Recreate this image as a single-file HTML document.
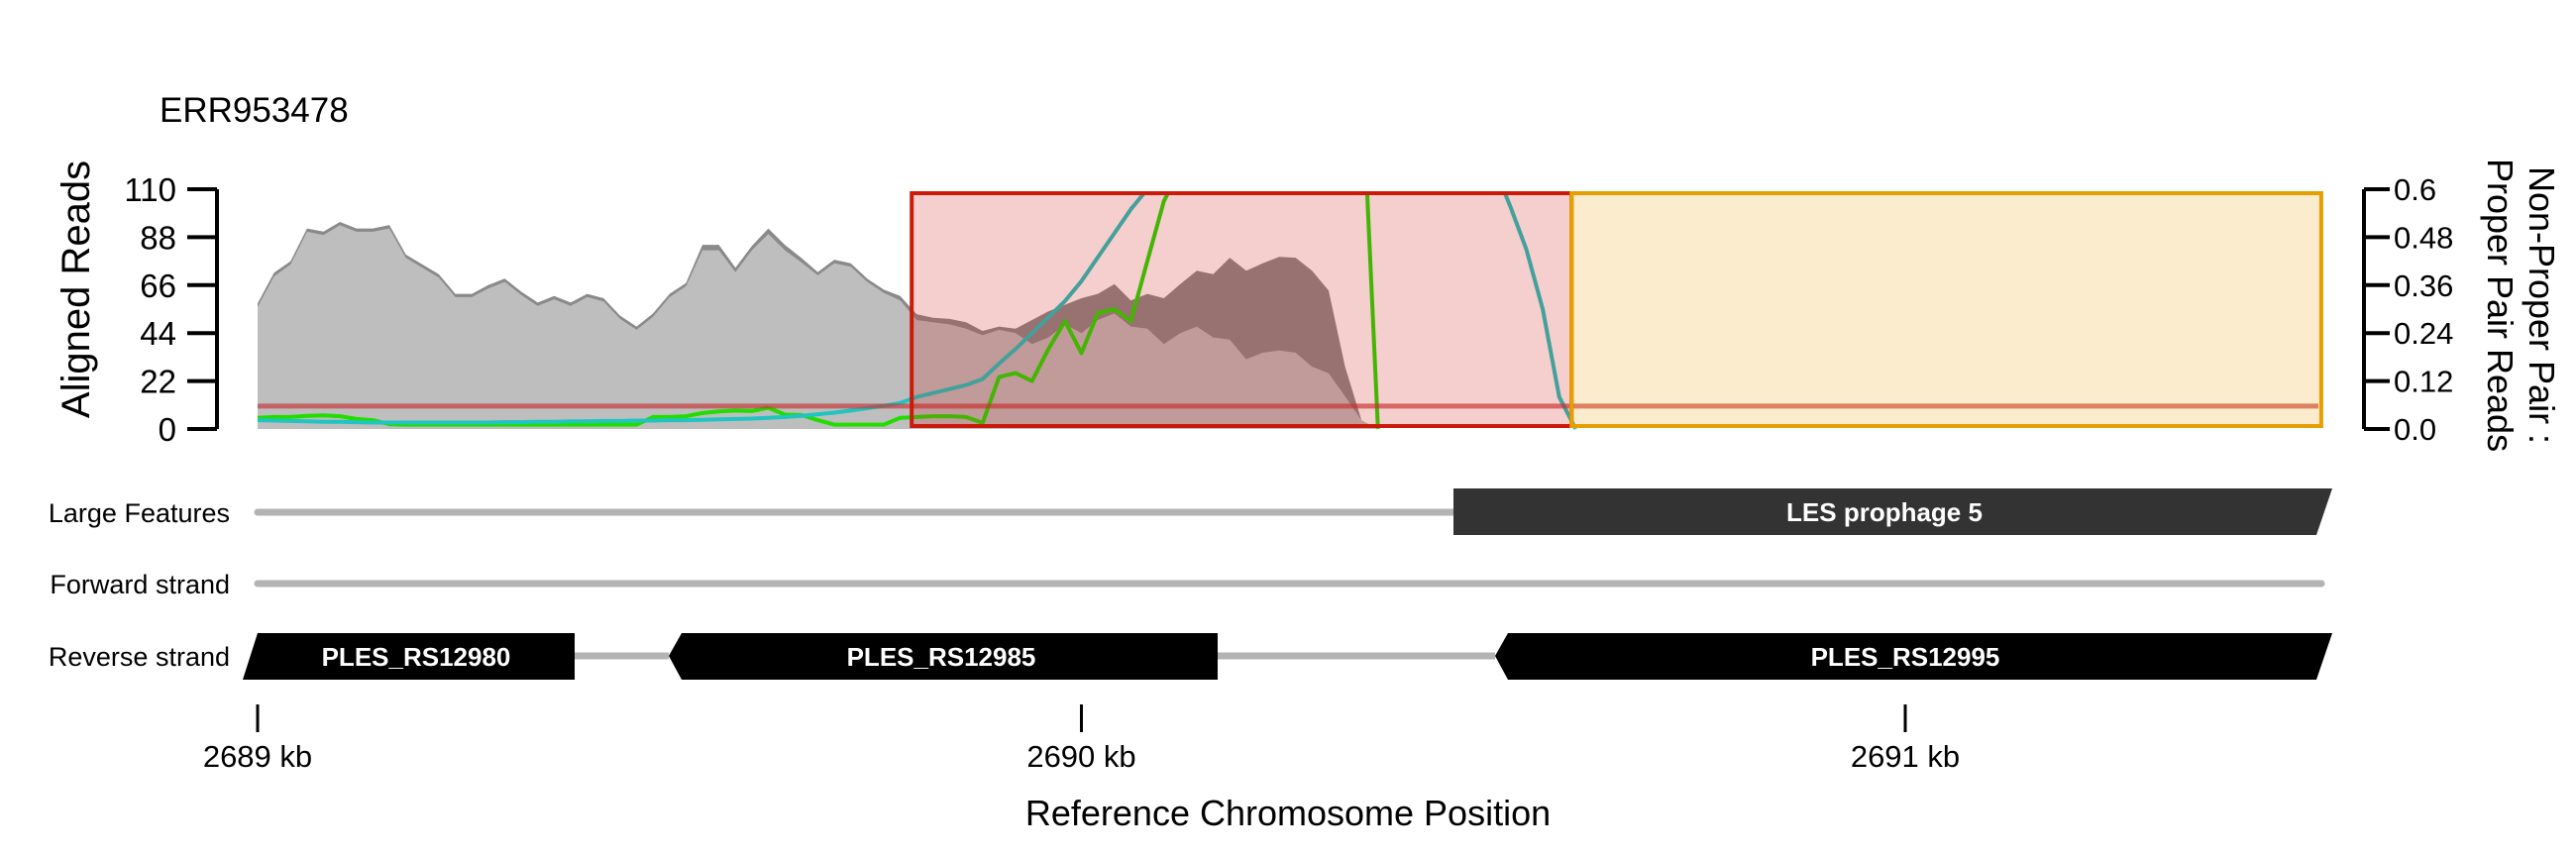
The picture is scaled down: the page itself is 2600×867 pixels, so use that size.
<!DOCTYPE html>
<html><head><meta charset="utf-8"><style>
html,body{margin:0;padding:0;background:#fff;}
svg{display:block;font-family:"Liberation Sans",sans-serif;}
</style></head><body>
<svg id="chart" width="2600" height="867" viewBox="0 0 2600 867" xmlns="http://www.w3.org/2000/svg">
<defs><clipPath id="plotClip"><rect x="240" y="196" width="2120" height="240"/></clipPath></defs>
<text x="161" y="123" font-size="35">ERR953478</text>
<text transform="translate(90,292) rotate(-90)" text-anchor="middle" font-size="40">Aligned Reads</text>
<g font-size="36" text-anchor="middle">
<text transform="translate(2553,308) rotate(90)">Non-Proper Pair :</text>
<text transform="translate(2511,308) rotate(90)">Proper Pair Reads</text>
</g>
<g id="plot"></g>
<g id="leftAxis"></g>
<g id="rightAxis"></g>

<g>
<text x="232" y="527" font-size="27" text-anchor="end">Large Features</text>
<text x="232" y="599" font-size="27" text-anchor="end">Forward strand</text>
<text x="232" y="672" font-size="27" text-anchor="end">Reverse strand</text>
<line x1="260" y1="517" x2="1467" y2="517" stroke="#b3b3b3" stroke-width="7" stroke-linecap="round"/>
<line x1="260" y1="589" x2="2343" y2="589" stroke="#b3b3b3" stroke-width="7" stroke-linecap="round"/>
<line x1="580" y1="662" x2="675" y2="662" stroke="#b3b3b3" stroke-width="7"/>
<line x1="1229" y1="662" x2="1509" y2="662" stroke="#b3b3b3" stroke-width="7"/>
<g>
<polygon points="1467,493 2354,493 2338,540 1467,540" fill="#333333"/>
<text x="1902" y="526" font-size="26" font-weight="bold" fill="#fff" text-anchor="middle">LES prophage 5</text></g>
<g>
<polygon points="260,639 580,639 580,686 245,686" fill="#000"/>
<text x="420" y="672" font-size="26" font-weight="bold" fill="#fff" text-anchor="middle">PLES_RS12980</text></g>
<g>
<polygon points="688,639 1229,639 1229,686 688,686 675,662" fill="#000"/>
<text x="950" y="672" font-size="26" font-weight="bold" fill="#fff" text-anchor="middle">PLES_RS12985</text></g>
<g>
<polygon points="1522,639 2354,639 2338,686 1522,686 1509,662" fill="#000"/>
<text x="1923" y="672" font-size="26" font-weight="bold" fill="#fff" text-anchor="middle">PLES_RS12995</text></g>
</g>
<g id="xAxis"></g>
<text x="1300" y="833" font-size="36" text-anchor="middle">Reference Chromosome Position</text>
</svg>
<script>
const binStart = 2689000;
const binStep = 20;
const totalReads = [57.6,71.7,77,92,90.6,95,92,92,93.6,80,75.5,71,62,62,66,69,63,58,61,58,62,60,52,47,53,62,67,84.5,84.5,74,84,92,84.5,78.5,72,77.7,76,69,64,61,52.7,51,50.5,49,45,47,46,50,54,57,60,62,66.5,59,62,60,66.5,72.6,71,78.6,72.6,76,79,78.6,72.6,63.5,28.6,4,0];
const properReads = [56,70,75.5,90.5,89,93.5,90.5,90.5,92,78.5,74,69.5,60.5,60.5,64.5,67.5,61.5,56.5,59.5,56.5,60.5,58.5,50.5,45.5,51.5,60.5,65.5,82,82,72,82,89.5,82,76.5,70.5,76,74.5,67.5,62.5,59,50,49,48,46,43,45.5,44,39,42,48,44,50,53,47,46,39,44,47,42,41,32,35,36,35,28.6,25.6,15,4,0];
const ratioRaw = [0.028,0.030,0.030,0.033,0.034,0.032,0.025,0.022,0.012,0.011,0.011,0.011,0.011,0.011,0.011,0.011,0.011,0.011,0.011,0.011,0.011,0.011,0.011,0.011,0.030,0.030,0.032,0.040,0.044,0.046,0.045,0.053,0.036,0.035,0.022,0.011,0.011,0.011,0.011,0.028,0.030,0.032,0.032,0.030,0.015,0.13,0.14,0.12,0.20,0.27,0.19,0.29,0.30,0.27,0.42,0.57,0.65,0.9,0.9,0.9,0.9,0.9,0.9,0.9,0.9,0.9,0.9,0.9,0];
const ratioSmooth = [0.022,0.021,0.020,0.019,0.018,0.018,0.017,0.016,0.016,0.016,0.016,0.016,0.016,0.016,0.016,0.017,0.017,0.018,0.018,0.019,0.019,0.020,0.020,0.021,0.021,0.022,0.022,0.023,0.024,0.025,0.026,0.028,0.030,0.033,0.037,0.041,0.046,0.052,0.058,0.065,0.08,0.09,0.10,0.11,0.125,0.164,0.20,0.24,0.28,0.32,0.37,0.43,0.49,0.55,0.60,0.65,0.70,0.8,0.8,0.8,0.8,0.8,0.8,0.8,0.8,0.8,0.8,0.8,0.8,0.8,0.8,0.8,0.8,0.8,0.75,0.66,0.56,0.45,0.30,0.08,0];
const leftTicks = [0,22,44,66,88,110];
const rightTicks = ["0.0","0.12","0.24","0.36","0.48","0.6"];
const xTicks = [2689000,2690000,2691000];
const xTickLabels = ["2689 kb","2690 kb","2691 kb"];
const threshold = 10.5;
const regions = [[2689794,2690595,"red"],[2690595,2691505,"orange"]];

const NS="http://www.w3.org/2000/svg";
const xOf = bp => 260 + (bp-2689000)*0.8315;
const yL = v => 433 - v*242/110;
const yR = r => 433 - r*242/0.6;
const binX = i => xOf(binStart + i*binStep);
function mk(tag, attrs, parent){const e=document.createElementNS(NS,tag);for(const k in attrs)e.setAttribute(k,attrs[k]);parent.appendChild(e);return e;}
const plot=document.getElementById('plot');
function areaPath(arr){let d='M'+binX(0)+','+yL(0);arr.forEach((v,i)=>{d+=' L'+binX(i).toFixed(1)+','+yL(v).toFixed(1);});d+=' L'+binX(arr.length-1)+','+yL(0)+' Z';return d;}
function linePath(arr,f){return arr.map((v,i)=>(i?'L':'M')+binX(i).toFixed(1)+','+f(v).toFixed(1)).join(' ');}

const a1=mk('path',{d:areaPath(totalReads),fill:'#8a8a8a'},plot);


const a2=mk('path',{d:areaPath(properReads),fill:'#bebebe'},plot);


const g=mk('g',{'clip-path':'url(#plotClip)'},plot);
const l1=mk('path',{d:linePath(ratioRaw,yR),fill:'none',stroke:'#22dd00','stroke-width':4,'stroke-linejoin':'round'},g);


const l2=mk('path',{d:linePath(ratioSmooth,yR),fill:'none',stroke:'#20c4c0','stroke-width':4,'stroke-linejoin':'round'},g);


const th=mk('line',{x1:260,x2:2340,y1:yL(threshold),y2:yL(threshold),stroke:'rgba(200,50,50,0.65)','stroke-width':5},plot);


regions.forEach(r=>{
  const x1=xOf(r[0]),x2=xOf(r[1]);
  const fill=r[2]==='red'?'rgba(205,30,20,0.21)':'rgba(230,160,0,0.2)';
  const st=r[2]==='red'?'#cc1a0a':'#e69f00';
  const rc=mk('rect',{x:x1,y:195,width:x2-x1,height:235,fill:fill,stroke:st,'stroke-width':4},plot);
  
  
});
const la=document.getElementById('leftAxis');
mk('line',{x1:219,x2:219,y1:yL(0),y2:yL(110),stroke:'#000','stroke-width':4},la);
leftTicks.forEach(t=>{
  mk('line',{x1:189,x2:219,y1:yL(t),y2:yL(t),stroke:'#000','stroke-width':4},la);
  const tx=mk('text',{x:178,y:yL(t)+12,'font-size':33,'text-anchor':'end'},la);
  tx.textContent=t;
  
  
});
const ra=document.getElementById('rightAxis');
mk('line',{x1:2386,x2:2386,y1:yR(0),y2:yR(0.6),stroke:'#000','stroke-width':4},ra);
rightTicks.forEach(t=>{
  const v=parseFloat(t);
  mk('line',{x1:2386,x2:2412,y1:yR(v),y2:yR(v),stroke:'#000','stroke-width':4},ra);
  const tx=mk('text',{x:2416,y:yR(v)+11,'font-size':31},ra);
  tx.textContent=t;
  
  
});
const xa=document.getElementById('xAxis');
xTicks.forEach((t,i)=>{
  mk('line',{x1:xOf(t),x2:xOf(t),y1:711,y2:739,stroke:'#000','stroke-width':3},xa);
  const tx=mk('text',{x:xOf(t),y:774,'font-size':31,'text-anchor':'middle'},xa);
  tx.textContent=xTickLabels[i];
  
  
});
</script>
</body></html>
